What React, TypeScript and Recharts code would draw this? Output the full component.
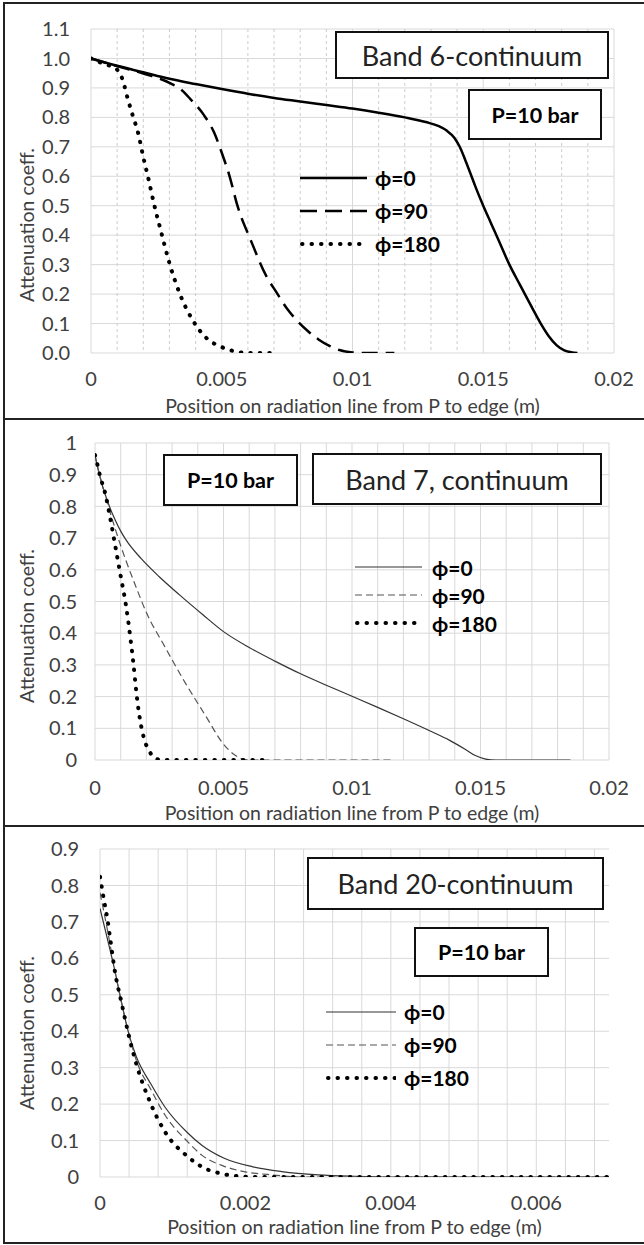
import React from 'react';
import { LineChart, Line, XAxis, YAxis, CartesianGrid, Legend, Label } from 'recharts';

const FONT = 'Lato, "Open Sans", "DejaVu Sans", sans-serif';

type Pt = [number, number];

// Band 6-continuum, P=10 bar  (position in m, attenuation coeff.)
const band6Phi0: Pt[] = [
  [0, 1.0], [0.001, 0.975], [0.002, 0.953], [0.003, 0.931], [0.004, 0.913], [0.005, 0.896],
  [0.006, 0.88], [0.007, 0.866], [0.008, 0.854], [0.009, 0.842], [0.01, 0.83], [0.011, 0.816],
  [0.012, 0.8], [0.0128, 0.784], [0.0133, 0.77], [0.0136, 0.755], [0.0139, 0.73], [0.0141, 0.7],
  [0.0143, 0.658], [0.0145, 0.612], [0.0147, 0.565], [0.015, 0.5], [0.0153, 0.44], [0.0156, 0.38],
  [0.016, 0.3], [0.0164, 0.232], [0.0168, 0.165], [0.0172, 0.1], [0.0175, 0.058], [0.0178, 0.027],
  [0.0181, 0.009], [0.0184, 0.002], [0.0186, 0.0],
];
const band6Phi90: Pt[] = [
  [0, 1.0], [0.001, 0.974], [0.002, 0.949], [0.003, 0.917], [0.0035, 0.89], [0.0038, 0.862],
  [0.0043, 0.81], [0.0047, 0.75], [0.005, 0.68], [0.0053, 0.6], [0.0056, 0.5], [0.0061, 0.385],
  [0.0067, 0.262], [0.0071, 0.205], [0.0075, 0.15], [0.0079, 0.108], [0.0083, 0.074], [0.0087, 0.046],
  [0.0091, 0.025], [0.0095, 0.01], [0.01, 0.002], [0.0105, 0.0], [0.0116, 0.0],
];
const band6Phi180: Pt[] = [
  [0, 1.0], [0.0004, 0.985], [0.0008, 0.972], [0.001, 0.962], [0.0012, 0.93], [0.0014, 0.865],
  [0.0016, 0.805], [0.0018, 0.748], [0.002, 0.665], [0.0022, 0.59], [0.0024, 0.51], [0.0027, 0.405],
  [0.003, 0.305], [0.0034, 0.2], [0.0039, 0.11], [0.0044, 0.052], [0.005, 0.02], [0.0056, 0.004],
  [0.006, 0.0], [0.0069, 0.0],
];

// Band 7, continuum
const band7Phi0: Pt[] = [
  [0, 0.962], [0.0001, 0.925], [0.0002, 0.892], [0.0003, 0.862], [0.00045, 0.825], [0.0006, 0.792],
  [0.0008, 0.755], [0.001, 0.722], [0.0012, 0.695], [0.0018, 0.635], [0.0025, 0.578], [0.0033, 0.52],
  [0.0042, 0.458], [0.005, 0.405], [0.006, 0.355], [0.007, 0.312], [0.008, 0.272], [0.009, 0.236],
  [0.01, 0.201], [0.011, 0.166], [0.012, 0.13], [0.013, 0.093], [0.0138, 0.062], [0.0144, 0.034],
  [0.0148, 0.014], [0.0152, 0.003], [0.0156, 0.0], [0.0185, 0.0],
];
const band7Phi90: Pt[] = [
  [0, 0.962], [0.0001, 0.925], [0.0002, 0.892], [0.0003, 0.862], [0.00045, 0.822], [0.0006, 0.778],
  [0.0008, 0.726], [0.001, 0.676], [0.0012, 0.63], [0.0016, 0.545], [0.002, 0.465], [0.0027, 0.36],
  [0.0035, 0.245], [0.0043, 0.14], [0.005, 0.05], [0.0054, 0.018], [0.0057, 0.004], [0.006, 0.0],
  [0.0116, 0.0],
];
const band7Phi180: Pt[] = [
  [0, 0.962], [0.0001, 0.93], [0.0002, 0.895], [0.0004, 0.84], [0.0006, 0.76], [0.0008, 0.67],
  [0.001, 0.58], [0.0012, 0.49], [0.0014, 0.37], [0.0015, 0.3], [0.0016, 0.22], [0.0017, 0.155],
  [0.0019, 0.07], [0.0021, 0.03], [0.0023, 0.008], [0.0026, 0.0], [0.0068, 0.0],
];

// Band 20-continuum
const band20Phi0: Pt[] = [
  [0, 0.737], [0.0001, 0.655], [0.0002, 0.57], [0.0003, 0.475], [0.0004, 0.39], [0.0005, 0.33],
  [0.0007, 0.255], [0.0009, 0.19], [0.0012, 0.122], [0.0014, 0.087], [0.0017, 0.052], [0.0021, 0.028],
  [0.0025, 0.015], [0.003, 0.006], [0.0035, 0.002], [0.004, 0.0], [0.007, 0.0],
];
const band20Phi90: Pt[] = [
  [0, 0.78], [0.0001, 0.68], [0.0002, 0.57], [0.0003, 0.475], [0.0004, 0.39], [0.0005, 0.32],
  [0.0007, 0.24], [0.0009, 0.168], [0.0012, 0.098], [0.0014, 0.06], [0.0017, 0.03], [0.002, 0.014],
  [0.0023, 0.007], [0.0028, 0.0], [0.007, 0.0],
];
const band20Phi180: Pt[] = [
  [0, 0.824], [0.00005, 0.765], [0.0001, 0.71], [0.00015, 0.64], [0.0002, 0.57], [0.0003, 0.475],
  [0.0004, 0.385], [0.0005, 0.31], [0.0007, 0.2], [0.0009, 0.122], [0.0012, 0.057], [0.0014, 0.028],
  [0.0017, 0.008], [0.002, 0.001], [0.0022, 0.0], [0.007, 0.0],
];

const seriesNames = ['ϕ=0', 'ϕ=90', 'ϕ=180'];

const xTicksWide = [0, 0.005, 0.01, 0.015, 0.02];
const xTicksNarrow = [0, 0.002, 0.004, 0.006];
const band6MinorGrid = [0.001, 0.002, 0.003, 0.004, 0.006, 0.007, 0.008, 0.009, 0.011, 0.012, 0.013, 0.014, 0.016, 0.017, 0.018, 0.019];
const band7Grid = [0, 0.001, 0.002, 0.003, 0.004, 0.005, 0.006, 0.007, 0.008, 0.009, 0.01, 0.011, 0.012, 0.013, 0.014, 0.015, 0.016, 0.017, 0.018, 0.019, 0.02];
const band20Grid = [0, 0.0004, 0.0008, 0.0012, 0.0016, 0.002, 0.0024, 0.0028, 0.0032, 0.0036, 0.004, 0.0044, 0.0048, 0.0052, 0.0056, 0.006, 0.0064, 0.0068];

const yTicksBand6 = [0, 0.1, 0.2, 0.3, 0.4, 0.5, 0.6, 0.7, 0.8, 0.9, 1.0, 1.1];
const yTicksBand7 = [0, 0.1, 0.2, 0.3, 0.4, 0.5, 0.6, 0.7, 0.8, 0.9, 1];
const yTicksBand20 = [0, 0.1, 0.2, 0.3, 0.4, 0.5, 0.6, 0.7, 0.8, 0.9];

const toRows = (pts: Pt[]) => pts.map(([x, y]) => ({ x, y }));

type LineStyle = { stroke: string; width: number; dash?: string; round?: boolean; legendDash?: string };

const thick: LineStyle[] = [
  { stroke: '#000', width: 2.5 },
  { stroke: '#000', width: 2.5, dash: '16 8', legendDash: '17 8' },
  { stroke: '#000', width: 4, dash: '0.5 9', round: true },
];
const thin: LineStyle[] = [
  { stroke: '#333', width: 1.2 },
  { stroke: '#555', width: 1.2, dash: '7 4' },
  { stroke: '#000', width: 4, dash: '0.5 9', round: true },
];

const TICK_FS = 20;
const TITLE_FS = 19.5;

const panels = [
  {
    top: 3, height: 416, plotTop: 26, plotLeft: 91, right: 30, xAxisH: 66,
    xDomain: [0, 0.02], xTicks: xTicksWide, minor: band6MinorGrid, major: xTicksWide,
    yDomain: [0, 1.1], yTicks: yTicksBand6, yFmt: (v: number) => v.toFixed(1),
    yTickMargin: 21, xTickMargin: 19, titleOffset: 6, yLabelY: 222,
    series: [band6Phi0, band6Phi90, band6Phi180], styles: thick,
    legend: { left: 300, top: 158, lineLen: 67, gap: 8, rowH: 33 },
  },
  {
    top: 419, height: 407, plotTop: 24, plotLeft: 95, right: 35, xAxisH: 66,
    xDomain: [0, 0.02], xTicks: xTicksWide, minor: null, major: band7Grid,
    yDomain: [0, 1], yTicks: yTicksBand7, yFmt: (v: number) => String(v),
    yTickMargin: 18, xTickMargin: 21, titleOffset: 6, yLabelY: 207,
    series: [band7Phi0, band7Phi90, band7Phi180], styles: thin,
    legend: { left: 355, top: 134, lineLen: 67, gap: 10, rowH: 28 },
  },
  {
    top: 826, height: 417, plotTop: 23, plotLeft: 100, right: 35, xAxisH: 66,
    xDomain: [0, 0.007], xTicks: xTicksNarrow, minor: null, major: band20Grid,
    yDomain: [0, 0.9], yTicks: yTicksBand20, yFmt: (v: number) => String(v),
    yTickMargin: 21, xTickMargin: 19, titleOffset: 9, yLabelY: 207,
    series: [band20Phi0, band20Phi90, band20Phi180], styles: thin,
    legend: { left: 326, top: 169, lineLen: 70, gap: 8, rowH: 33 },
  },
];

const boxes = [
  { text: 'Band 6-continuum', x: 335, y: 31, w: 274, h: 48, bold: false },
  { text: 'P=10 bar', x: 468, y: 89, w: 134, h: 51, bold: true },
  { text: 'P=10 bar', x: 163, y: 454, w: 135, h: 52, bold: true },
  { text: 'Band 7, continuum', x: 312, y: 453, w: 290, h: 52, bold: false },
  { text: 'Band 20-continuum', x: 307, y: 857, w: 297, h: 53, bold: false },
  { text: 'P=10 bar', x: 414, y: 927, w: 135, h: 50, bold: true },
];

function PhiLegend({ styles, lineLen, gap, rowH }: { styles: LineStyle[]; lineLen: number; gap: number; rowH: number }) {
  return (
    <div style={{ fontFamily: FONT }}>
      {seriesNames.map((name, i) => {
        const s = styles[i];
        return (
          <div key={name} style={{ display: 'flex', alignItems: 'center', height: rowH }}>
            <svg width={lineLen} height={10} style={{ display: 'block' }}>
              <line
                x1={s.round ? 2 : 0}
                x2={lineLen}
                y1={5}
                y2={5}
                stroke={s.stroke}
                strokeWidth={s.width}
                strokeDasharray={s.legendDash || s.dash}
                strokeLinecap={s.round ? 'round' : 'butt'}
              />
            </svg>
            <span style={{ marginLeft: gap, fontWeight: 700, fontSize: 21, color: '#000', lineHeight: 1 }}>{name}</span>
          </div>
        );
      })}
    </div>
  );
}

export default function App() {
  const tickStyle = { fill: '#404040', fontSize: TICK_FS, fontFamily: FONT };
  return (
    <div style={{ position: 'absolute', left: 0, top: 0, width: 644, height: 1245, background: '#fff', fontFamily: FONT }}>
      {panels.map((p, idx) => (
        <div key={idx} style={{ position: 'absolute', left: 0, top: p.top, width: 644, height: p.height }}>
          <LineChart width={644} height={p.height} margin={{ top: p.plotTop, right: p.right, bottom: 0, left: 0 }}>
            <CartesianGrid vertical={false} horizontalValues={p.yTicks} stroke="#d9d9d9" />
            {p.minor && (
              <CartesianGrid horizontal={false} verticalValues={p.minor} stroke="#cccccc" strokeDasharray="3 3" />
            )}
            <CartesianGrid horizontal={false} verticalValues={p.major} stroke="#d9d9d9" />
            <XAxis
              type="number"
              dataKey="x"
              domain={p.xDomain}
              ticks={p.xTicks}
              interval={0}
              allowDataOverflow
              axisLine={false}
              tickLine={false}
              tickSize={0}
              tickMargin={p.xTickMargin}
              height={p.xAxisH}
              tick={tickStyle}
              tickFormatter={(v: number) => String(v)}
            >
              <Label
                value="Position on radiation line from P to edge (m)"
                position="insideBottom"
                offset={p.titleOffset}
                style={{ fill: '#404040', fontSize: TITLE_FS, fontFamily: FONT }}
              />
            </XAxis>
            <YAxis
              type="number"
              domain={p.yDomain}
              ticks={p.yTicks}
              interval={0}
              allowDataOverflow
              width={p.plotLeft}
              axisLine={false}
              tickLine={false}
              tickSize={0}
              tickMargin={p.yTickMargin}
              tick={tickStyle}
              tickFormatter={p.yFmt}
            >
              <Label
                content={() => (
                  <text
                    x={26}
                    y={p.yLabelY}
                    transform={`rotate(-90 26 ${p.yLabelY})`}
                    textAnchor="middle"
                    dominantBaseline="central"
                    fill="#404040"
                    fontSize={TITLE_FS}
                    fontFamily={FONT}
                  >
                    Attenuation coeff.
                  </text>
                )}
              />
            </YAxis>
            <Legend
              layout="vertical"
              align="center"
              verticalAlign="middle"
              wrapperStyle={{ left: p.legend.left, top: p.legend.top, width: 200 }}
              content={() => (
                <PhiLegend styles={p.styles} lineLen={p.legend.lineLen} gap={p.legend.gap} rowH={p.legend.rowH} />
              )}
            />
            {p.series.map((pts, i) => {
              const s = p.styles[i];
              return (
                <Line
                  key={seriesNames[i]}
                  name={seriesNames[i]}
                  data={toRows(pts)}
                  dataKey="y"
                  type="monotone"
                  stroke={s.stroke}
                  strokeWidth={s.width}
                  strokeDasharray={s.dash}
                  strokeLinecap={s.round ? 'round' : 'butt'}
                  dot={false}
                  activeDot={false}
                  isAnimationActive={false}
                />
              );
            })}
          </LineChart>
          <div
            style={{
              position: 'absolute', left: 3, top: -1, width: 641, height: p.height + 1,
              borderTop: '2px solid #222', borderLeft: '2px solid #222', boxSizing: 'border-box', pointerEvents: 'none',
            }}
          />
        </div>
      ))}
      <div style={{ position: 'absolute', left: 3, top: 1242, width: 641, height: 0, borderTop: '2px solid #222' }} />
      {boxes.map((b, i) => (
        <div
          key={i}
          style={{
            position: 'absolute', left: b.x, top: b.y, width: b.w, height: b.h, boxSizing: 'border-box',
            border: '2.5px solid #111', background: '#fff', display: 'flex', alignItems: 'center',
            justifyContent: 'center', fontSize: b.bold ? 21.5 : 27, fontWeight: b.bold ? 700 : 400,
            color: b.bold ? '#000' : '#222', whiteSpace: 'nowrap',
          }}
        >
          {b.text}
        </div>
      ))}
    </div>
  );
}
